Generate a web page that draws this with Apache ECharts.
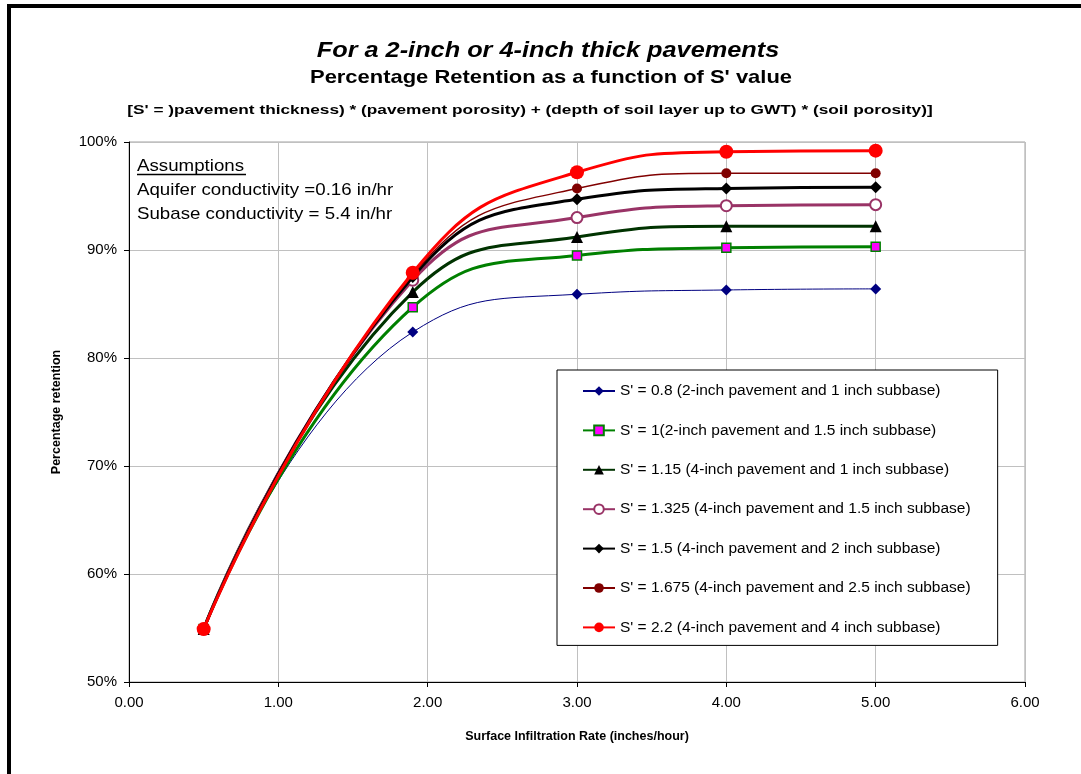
<!DOCTYPE html>
<html>
<head>
<meta charset="utf-8">
<script src="https://cdn.jsdelivr.net/npm/echarts@6/dist/echarts.min.js"></script>
<style>
html,body{margin:0;padding:0;background:#fff;}
#chart{width:1081px;height:774px;}
</style>
</head>
<body>
<div id="chart"></div>
<script>
// ---- data ----
const xValues = [0.5, 1.9, 3, 4, 5];
const seriesNames = [
  "S' = 0.8 (2-inch pavement and 1 inch subbase)",
  "S' = 1(2-inch pavement and 1.5 inch subbase)",
  "S' = 1.15 (4-inch pavement and 1 inch subbase)",
  "S' = 1.325 (4-inch pavement and 1.5 inch subbase)",
  "S' = 1.5 (4-inch pavement and 2 inch subbase)",
  "S' = 1.675 (4-inch pavement and 2.5 inch subbase)",
  "S' = 2.2 (4-inch pavement and 4 inch subbase)"
];
const s080  = [54.9, 82.4, 85.9, 86.3, 86.4];
const s100  = [54.9, 84.7, 89.5, 90.2, 90.3];
const s115  = [54.9, 86.1, 91.2, 92.2, 92.2];
const s1325 = [54.9, 87.2, 93.0, 94.1, 94.2];
const s150  = [54.9, 87.5, 94.7, 95.7, 95.8];
const s1675 = [54.9, 87.7, 95.7, 97.1, 97.1];
const s220  = [54.9, 87.9, 97.2, 99.1, 99.2];
const xTicks = [0, 1, 2, 3, 4, 5, 6];
const yTicks = [50, 60, 70, 80, 90, 100];
const titleLines = [
  'For a 2-inch or 4-inch thick pavements',
  "Percentage Retention as a function of S' value",
  "[S' = )pavement thickness) * (pavement porosity) + (depth of soil layer up to GWT) * (soil porosity)]"
];
const noteLines = ['Assumptions', 'Aquifer conductivity =0.16 in/hr', 'Subase conductivity = 5.4 in/hr'];

const FONT = "'Liberation Sans', Arial, sans-serif";
const pairs = v => xValues.map((x, i) => [x, v[i]]);

const styles = [
  {line:'#000080', w:1,   sym:'diamond',     size:11, fill:'#000080', border:'#000080', bw:0},
  {line:'#008000', w:3,   sym:'rect',        size:9,  fill:'#ff00ff', border:'#008000', bw:1.5},
  {line:'#003300', w:3,   sym:'triangle',    size:12, fill:'#000000', border:'#000000', bw:0},
  {line:'#993366', w:3,   sym:'emptyCircle', size:11, fill:'#993366', border:'#993366', bw:1.5},
  {line:'#000000', w:3,   sym:'diamond',     size:12, fill:'#000000', border:'#000000', bw:0},
  {line:'#800000', w:1.5, sym:'circle',      size:10, fill:'#800000', border:'#800000', bw:0},
  {line:'#ff0000', w:3,   sym:'circle',      size:14, fill:'#ff0000', border:'#ff0000', bw:0}
];
const dataSets = [s080, s100, s115, s1325, s150, s1675, s220];

const series = dataSets.map((d, i) => {
  const st = styles[i];
  const item = {color: st.fill};
  if (st.sym === 'emptyCircle') { item.color = st.line; item.borderWidth = st.bw; }
  else if (st.bw) { item.borderColor = st.border; item.borderWidth = st.bw; }
  return {
    name: seriesNames[i],
    type: 'line',
    data: pairs(d),
    smooth: 0.5,
    symbol: st.sym,
    symbolSize: st.size,
    showAllSymbol: true,
    lineStyle: {color: st.line, width: st.w},
    itemStyle: item,
    emphasis: {disabled: true},
    z: 2 + i
  };
});

function stretchedText(text, x, y, size, weight, style, sx, align) {
  return {
    type: 'text', x: x, y: y, scaleX: sx, z: 50, silent: true,
    style: {text: text, x: 0, y: 0, fill: '#000',
      font: style + ' ' + weight + ' ' + size + 'px ' + FONT,
      textAlign: align, textVerticalAlign: 'middle'}
  };
}

const chart = echarts.init(document.getElementById('chart'), null, {renderer: 'canvas'});
chart.setOption({
  animation: false,
  backgroundColor: '#ffffff',
  textStyle: {fontFamily: FONT},
  grid: {left: 129, right: 56, top: 142, bottom: 92, show: true, borderColor: '#a0a0a0', borderWidth: 1, backgroundColor: 'transparent'},
  legend: {
    orient: 'vertical', left: 557, top: 370,
    data: seriesNames,
    itemWidth: 32, itemHeight: 12, itemGap: 23.4,
    padding: [13, 27, 10, 25],
    backgroundColor: '#fff', borderColor: '#000', borderWidth: 1, borderRadius: 0,
    selectedMode: false,
    textStyle: {fontFamily: FONT, fontSize: 15.5, color: '#000', lineHeight: 14}
  },
  xAxis: {
    type: 'value', min: 0, max: 6, interval: 1,
    name: 'Surface Infiltration Rate (inches/hour)', nameLocation: 'middle', nameGap: 48,
    nameTextStyle: {fontFamily: FONT, fontSize: 12.5, fontWeight: 'bold', color: '#000'},
    axisLine: {show: true, lineStyle: {color: '#000', width: 1}},
    axisTick: {show: true, inside: false, length: 5, lineStyle: {color: '#000'}},
    axisLabel: {fontFamily: FONT, fontSize: 15, color: '#000', margin: 13,
      formatter: v => xTicks.includes(v) ? v.toFixed(2) : ''},
    splitLine: {show: true, lineStyle: {color: '#c0c0c0', width: 1}}
  },
  yAxis: {
    type: 'value', min: 50, max: 100, interval: 10,
    name: 'Percentage retention', nameLocation: 'middle', nameGap: 66, nameRotate: 90,
    nameTextStyle: {fontFamily: FONT, fontSize: 12.5, fontWeight: 'bold', color: '#000'},
    axisLine: {show: true, lineStyle: {color: '#000', width: 1}},
    axisTick: {show: true, inside: false, length: 5, lineStyle: {color: '#000'}},
    axisLabel: {fontFamily: FONT, fontSize: 15, color: '#000', margin: 12,
      formatter: v => yTicks.includes(v) ? v + '%' : ''},
    splitLine: {show: true, lineStyle: {color: '#c0c0c0', width: 1}}
  },
  graphic: [
    {type: 'rect', shape: {x: 9, y: 6, width: 1200, height: 900}, style: {fill: 'none', stroke: '#000', lineWidth: 4}, z: 100, silent: true},
    stretchedText(titleLines[0], 548, 51, 22, 'bold', 'italic', 1.15, 'center'),
    stretchedText(titleLines[1], 551, 78, 19, 'bold', 'normal', 1.155, 'center'),
    stretchedText(titleLines[2], 530, 111, 12.5, 'bold', 'normal', 1.38, 'center'),
    stretchedText(noteLines[0], 137, 166, 17, 'normal', 'normal', 1.1, 'left'),
    {type: 'line', shape: {x1: 137, y1: 174.5, x2: 246, y2: 174.5}, style: {stroke: '#000', lineWidth: 1.3}, z: 50, silent: true},
    stretchedText(noteLines[1], 137, 190, 17, 'normal', 'normal', 1.1, 'left'),
    stretchedText(noteLines[2], 137, 214, 17, 'normal', 'normal', 1.1, 'left')
  ],
  series: series
});
</script>
</body>
</html>
